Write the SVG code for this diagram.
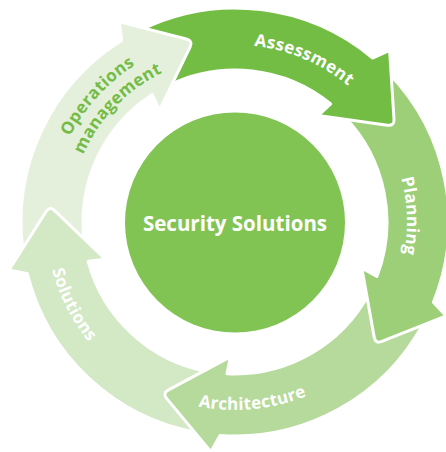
<svg xmlns="http://www.w3.org/2000/svg" width="446" height="452" viewBox="0 0 446 452">
<style>
.arrow{stroke:#ffffff;stroke-width:3;stroke-linejoin:round}
.lbl{font-family:"Open Sans","Liberation Sans",sans-serif;font-weight:bold;font-size:17px;fill:#ffffff;letter-spacing:0.3px}
.ops{fill:#74bc47}
.center{font-family:"Open Sans","Liberation Sans",sans-serif;font-weight:bold;font-size:20.5px;fill:#ffffff}
</style>
<defs>
<path id="arrowShape" d="M141.2,29.7 A214,214 0 0 1 372.6,58.1 L389.6,50.3 L394.0,119.2 Q394.4,126.2 387.5,125.2 L318.1,115.6 L330.7,103.9 A152,152 0 0 0 168.4,85.4 Z"/>
<path id="pAssess" d="M154.6,64.3 A177,177 0 0 1 404.3,170.2"/>
<path id="pPlan" d="M340.9,86.5 A172,172 0 0 1 350.1,349.8"/>
<path id="pArch" d="M103.5,356.3 A188,188 0 0 0 390.1,328.2"/>
<path id="pSol" d="M61.0,148.2 A189,189 0 0 0 192.5,406.2"/>
<path id="pOps" d="M50.6,246.3 A186,186 0 0 1 243.1,36.2"/>
<path id="pMgmt" d="M69.9,239.3 A166,166 0 0 1 246.6,56.4"/>
<clipPath id="solHeadClip">
<path d="M235,222 L-20.2,271.6 A260,260 0 0 1 -9.3,133.1 Z"/>
</clipPath>
</defs>
<g id="solutions">
<use href="#arrowShape" class="arrow" fill="#d3e8c5" transform="rotate(216 235 222)"/>
<text class="lbl"><textPath href="#pSol" startOffset="50%" text-anchor="middle">Solutions</textPath></text>
</g>
<g id="architecture">
<use href="#arrowShape" class="arrow" fill="#b6da9c" transform="rotate(144 235 222)"/>
<text class="lbl"><textPath href="#pArch" startOffset="50%" text-anchor="middle">Architecture</textPath></text>
</g>
<g id="planning">
<use href="#arrowShape" class="arrow" fill="#9dcf79" transform="rotate(72 235 222)"/>
<text class="lbl"><textPath href="#pPlan" startOffset="50%" text-anchor="middle">Planning</textPath></text>
</g>
<g id="assessment">
<use href="#arrowShape" class="arrow" fill="#73bd45"/>
<text class="lbl"><textPath href="#pAssess" startOffset="50%" text-anchor="middle">Assessment</textPath></text>
</g>
<g id="operations-management">
<use href="#arrowShape" class="arrow" fill="#e4f0dc" transform="rotate(288 235 222)"/>
<text class="lbl ops"><textPath href="#pOps" startOffset="50%" text-anchor="middle">Operations</textPath></text>
<text class="lbl ops"><textPath href="#pMgmt" startOffset="50%" text-anchor="middle">management</textPath></text>
</g>
<g id="solutions-head" clip-path="url(#solHeadClip)">
<use href="#arrowShape" class="arrow" fill="#d3e8c5" transform="rotate(216 235 222)"/>
</g>
<g id="security-solutions">
<circle cx="235" cy="222.5" r="110" fill="#82c454"/>
<text class="center" x="235" y="230.5" text-anchor="middle">Security Solutions</text>
</g>
</svg>
